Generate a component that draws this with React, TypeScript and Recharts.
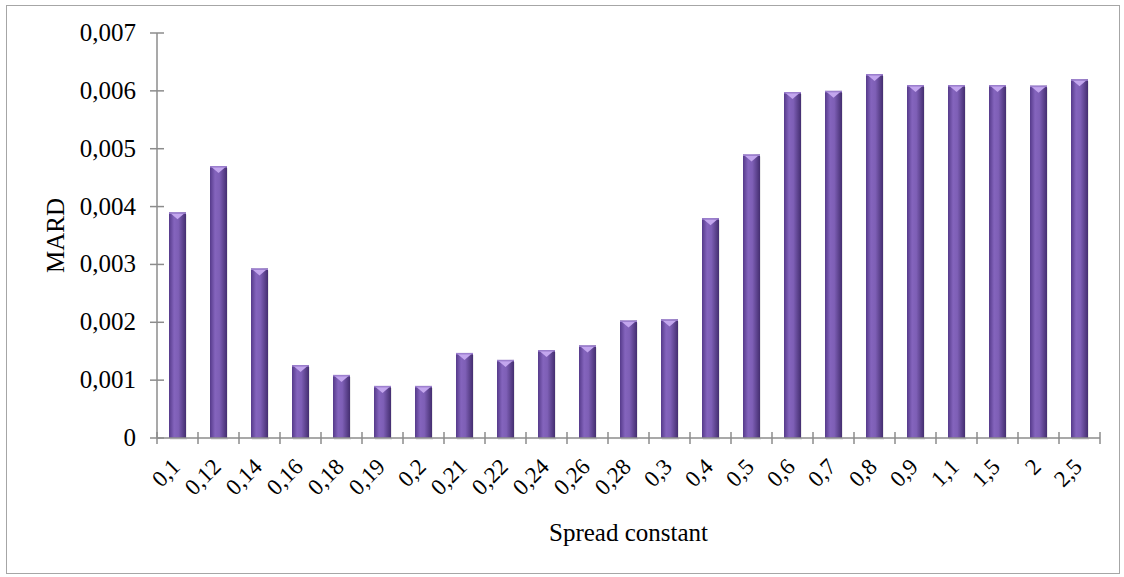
import React from 'react';
import { BarChart, Bar, XAxis, YAxis, Label } from 'recharts';

const categories = ['0,1', '0,12', '0,14', '0,16', '0,18', '0,19', '0,2', '0,21', '0,22', '0,24', '0,26', '0,28', '0,3', '0,4', '0,5', '0,6', '0,7', '0,8', '0,9', '1,1', '1,5', '2', '2,5'];
const mard = [0.0039, 0.0047, 0.00293, 0.00126, 0.00109, 0.0009, 0.0009, 0.00147, 0.00135, 0.00152, 0.0016, 0.00203, 0.00205, 0.0038, 0.0049, 0.00598, 0.006, 0.00629, 0.0061, 0.0061, 0.0061, 0.00609, 0.0062];
const yTicks = [0, 0.001, 0.002, 0.003, 0.004, 0.005, 0.006, 0.007];

const data = categories.map((name, i) => ({ name, value: mard[i] }));

const W = 1124;
const H = 577;
const margin = { top: 33, right: 24, left: 0, bottom: 0 };
const Y_AXIS_W = 157;
const X_AXIS_H = 139;
const band = (W - margin.left - margin.right - Y_AXIS_W) / categories.length;
const axisColor = '#8c8c8c';
const font = '"Liberation Serif", "Times New Roman", serif';

const fmt = (v: number) => (v === 0 ? '0' : v.toFixed(3).replace('.', ','));

const XTick = (props: any) => {
  const { x, y, payload, index } = props;
  const left = x - band / 2;
  return (
    <g>
      <line x1={left} x2={left} y1={y - 6} y2={y + 6} stroke={axisColor} strokeWidth={1.5} />
      {index === categories.length - 1 && (
        <line x1={x + band / 2} x2={x + band / 2} y1={y - 6} y2={y + 6} stroke={axisColor} strokeWidth={1.5} />
      )}
      <text
        x={x + 4}
        y={y + 30}
        transform={`rotate(-45 ${x + 4} ${y + 30})`}
        textAnchor="end"
        fontSize={23}
        fontFamily={font}
        fill="#000"
      >
        {payload.value}
      </text>
    </g>
  );
};

const YTick = (props: any) => {
  const { x, y, payload } = props;
  return (
    <g>
      <line x1={x - 7} x2={x + 7} y1={y} y2={y} stroke={axisColor} strokeWidth={1.5} />
      <text x={x - 21} y={y + 8} textAnchor="end" fontSize={25} fontFamily={font} fill="#000">
        {fmt(payload.value)}
      </text>
    </g>
  );
};

const BevelBar = (props: any) => {
  const { x, y, width, height } = props;
  if (!height || height <= 0) return null;
  return (
    <g>
      <rect x={x + 1} y={y + 2} width={width} height={height} fill="rgba(0,0,0,0.08)" />
      <rect x={x} y={y} width={width} height={height} fill="url(#barGrad)" />
      <polygon
        points={`${x + 1.5},${y + 1} ${x + width - 1.5},${y + 1} ${x + width / 2},${y + 7}`}
        fill="#c3a6ee"
      />
      <rect x={x} y={y} width={width} height={1.5} fill="#9d80cf" />
    </g>
  );
};

export default function App() {
  return (
    <div style={{ position: 'absolute', left: 0, top: 0, width: W, height: H, background: '#fff' }}>
      <div
        style={{
          position: 'absolute',
          left: 6,
          top: 5,
          width: 1114,
          height: 569,
          border: '1.5px solid #a6a6a6',
          boxSizing: 'border-box',
        }}
      />
      <div style={{ position: 'absolute', left: 0, top: 0 }}>
        <BarChart width={W} height={H} data={data} margin={margin}>
          <defs>
            <linearGradient id="barGrad" x1="0" y1="0" x2="1" y2="0">
              <stop offset="0%" stopColor="#553a8a" />
              <stop offset="30%" stopColor="#8464bd" />
              <stop offset="55%" stopColor="#7e5fb6" />
              <stop offset="100%" stopColor="#442e70" />
            </linearGradient>
          </defs>
          <XAxis
            dataKey="name"
            interval={0}
            height={X_AXIS_H}
            tickSize={0}
            tickMargin={0}
            tickLine={false}
            axisLine={{ stroke: axisColor, strokeWidth: 1.5 }}
            tick={<XTick />}
          >
            <Label
              content={(p: any) => {
                const vb = p.viewBox;
                return (
                  <text x={vb.x + vb.width / 2} y={vb.y + 103} textAnchor="middle" fontSize={25} fontFamily={font} fill="#000">
                    Spread constant
                  </text>
                );
              }}
            />
          </XAxis>
          <YAxis
            width={Y_AXIS_W}
            domain={[0, 0.007]}
            ticks={yTicks}
            interval={0}
            tickSize={0}
            tickMargin={0}
            tickLine={false}
            axisLine={{ stroke: axisColor, strokeWidth: 1.5 }}
            tick={<YTick />}
          >
            <Label
              content={(p: any) => {
                const vb = p.viewBox;
                const cx = vb.x + 55;
                const cy = vb.y + vb.height / 2;
                return (
                  <text x={cx} y={cy} transform={`rotate(-90 ${cx} ${cy})`} textAnchor="middle" dominantBaseline="central" fontSize={25} fontFamily={font} fill="#000">
                    MARD
                  </text>
                );
              }}
            />
          </YAxis>
          <Bar dataKey="value" barSize={17} shape={<BevelBar />} isAnimationActive={false} />
        </BarChart>
      </div>
    </div>
  );
}
